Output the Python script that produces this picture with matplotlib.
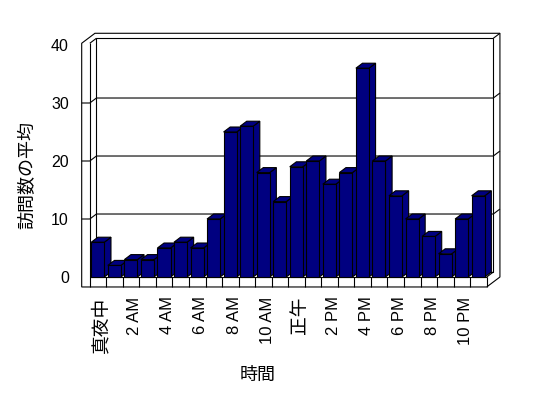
import matplotlib
matplotlib.use("Agg")
from matplotlib import pyplot as plt
from matplotlib.patches import Polygon

# data
visits = [6, 2, 3, 3, 5, 6, 5, 10, 25, 26, 18, 13,
          19, 20, 16, 18, 36, 20, 14, 10, 7, 4, 10, 14]
tick_labels = ["真夜中", "2 AM", "4 AM", "6 AM", "8 AM", "10 AM",
               "正午", "2 PM", "4 PM", "6 PM", "8 PM", "10 PM"]
y_ticks = [0, 10, 20, 30, 40]
x_title = "時間"
y_title = "訪問数の平均"

# oblique 3d look (in data units)
DX, DY = 0.40, 0.86      # one depth step
WALL = 0.49              # left wall thickness
FLOOR = 1.72             # floor thickness
TOP = 40.3
NAVY = "#000080"
LW = 0.8

plt.rcParams["font.family"] = ["Liberation Sans", "Noto Sans CJK JP"]

fig = plt.figure(figsize=(5.48, 3.98), dpi=100)
ax = fig.add_axes([89.8 / 548, 121 / 398, 396.9 / 548, 232 / 398])
n = len(visits)
ax.set_xlim(0, n)
ax.set_ylim(0, 40)
for s in ax.spines.values():
    s.set_visible(False)


def poly(pts, fc="none", z=1):
    p = Polygon(pts, closed=True, facecolor=fc, edgecolor="black",
                lw=LW, zorder=z, clip_on=False, joinstyle="miter")
    ax.add_patch(p)


def line(xs, ys, z=2):
    ax.plot(xs, ys, color="black", lw=LW, zorder=z, clip_on=False,
            solid_capstyle="butt")


# outer shape of walls and floor
poly([(-WALL, TOP), (-WALL + 2 * DX, TOP + 2 * DY), (n + 2 * DX, TOP + 2 * DY),
      (n + 2 * DX, -FLOOR + 2 * DY), (n, -FLOOR), (-WALL, -FLOOR)], fc="white", z=1)
# back wall face
poly([(DX, DY), (n + DX, DY), (n + DX, TOP + DY), (DX, TOP + DY)], z=2)
line([0, 0], [-FLOOR, TOP])
line([0, DX], [TOP, TOP + DY])
line([n + DX, n + 2 * DX], [TOP + DY, TOP + 2 * DY])
line([0, n], [0, 0])
line([n, n], [-FLOOR, 0])
line([n, n + DX], [0, DY])

# gridlines, wrapping round the walls
for v in y_ticks[1:-1]:
    line([-WALL, 0, DX, n + DX, n + 2 * DX], [v, v, v + DY, v + DY, v + 2 * DY])

# category ticks on the floor edge
for i in range(1, n):
    line([i, i], [-FLOOR, 0])

# bars
for i, v in enumerate(visits):
    x0, x1 = i + 0.09, i + 0.88
    z = 3 + i
    poly([(x1, 0), (x1 + DX, DY), (x1 + DX, v + DY), (x1, v)], fc=NAVY, z=z)
    poly([(x0, v), (x1, v), (x1 + DX, v + DY), (x0 + DX, v + DY)], fc=NAVY, z=z)
    poly([(x0, 0), (x1, 0), (x1, v), (x0, v)], fc=NAVY, z=z)

ax.set_yticks(y_ticks)
ax.set_yticklabels([str(t) for t in y_ticks], fontsize=11.5)
ax.tick_params(axis="y", length=0, pad=15)
ax.set_xticks([i + 0.72 for i in range(0, n, 2)])
ax.set_xticklabels(tick_labels, rotation=90, fontsize=12)
ax.tick_params(axis="x", length=0, pad=14)
for lab in ax.get_xticklabels():
    if not lab.get_text()[0].isdigit():
        lab.set_fontsize(13.5)

ax.set_xlabel(x_title, fontsize=13)
ax.xaxis.set_label_coords(10.17 / n, -16.9 / 40)
ax.xaxis.label.set_va("center")
ax.set_ylabel(y_title, fontsize=13)
ax.yaxis.set_label_coords(-3.74 / n, 17.6 / 40)
ax.yaxis.label.set_va("center")

fig.savefig("out.png", dpi=100)
